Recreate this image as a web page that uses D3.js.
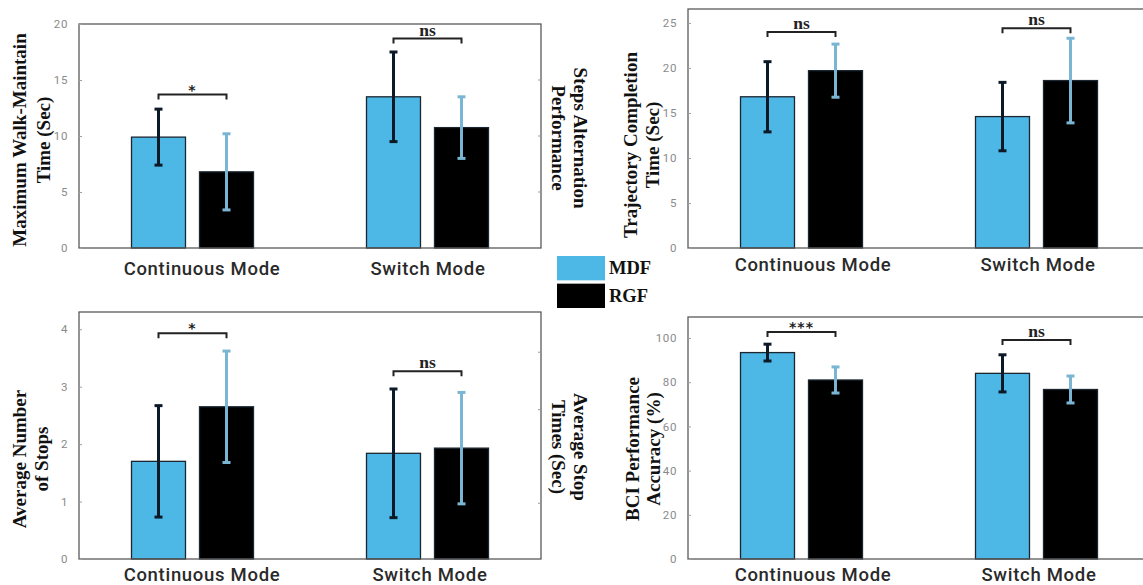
<!DOCTYPE html>
<html>
<head>
<meta charset="utf-8">
<script src="https://cdn.jsdelivr.net/npm/d3@7"></script>
<style>
  body { margin: 0; background: #fff; }
  svg { display: block; }
</style>
</head>
<body>
<svg id="chart" width="1143" height="585"></svg>
<script>
// ---- data ----
const categories = ["Continuous Mode", "Switch Mode"];
const seriesNames = ["MDF", "RGF"];

// Maximum walk-maintain time (s)
const walkMDF = [9.9, 13.5];
const walkMDFErr = [2.5, 4.0];
const walkRGF = [6.8, 10.75];
const walkRGFErr = [3.4, 2.75];
const walkSig = ["*", "ns"];
const walkBracket = [13.7, 18.7];
const walkTicks = [0, 5, 10, 15, 20];
const walkRightTicks = [5, 10, 15];

// Trajectory completion time (s)
const trajMDF = [16.8, 14.6];
const trajMDFErr = [3.9, 3.8];
const trajRGF = [19.7, 18.6];
const trajRGFErr = [2.95, 4.7];
const trajSig = ["ns", "ns"];
const trajBracket = [24.0, 24.4];
const trajTicks = [0, 5, 10, 15, 20, 25];

// Average number of stops
const stopsMDF = [1.7, 1.84];
const stopsMDFErr = [0.97, 1.12];
const stopsRGF = [2.65, 1.93];
const stopsRGFErr = [0.97, 0.97];
const stopsSig = ["*", "ns"];
const stopsBracket = [3.93, 3.27];
const stopsTicks = [0, 1, 2, 3, 4];
const stopsRightTicks = [0.97, 2.6, 3.6];

// BCI performance accuracy (%)
const bciMDF = [93.4, 84.0];
const bciMDFErr = [3.8, 8.4];
const bciRGF = [81.0, 76.7];
const bciRGFErr = [5.9, 6.1];
const bciSig = ["***", "ns"];
const bciBracket = [102.7, 99.1];
const bciTicks = [0, 20, 40, 60, 80, 100];

// ---- style ----
const colMDF = "#4db7e6";
const colRGF = "#000000";
const errMDF = "#0c1a28";
const errRGF = "#7ab6d3";
const serif = "'Liberation Serif', 'Times New Roman', serif";
const sans = "Roboto, 'DejaVu Sans', sans-serif";

const svg = d3.select("#chart");

function drawPanel(p) {
  const g = svg.append("g");
  const x = d3.scalePoint().domain(categories).range([p.left, p.left + p.width]).padding(0.483);
  const xs = d3.scaleBand().domain(seriesNames).range([-61, 61]).paddingInner(0.206);
  const y = d3.scaleLinear().domain([0, p.yMax]).range([p.bottom, p.top]);

  const rows = [];
  categories.forEach((c, i) => {
    rows.push({ cat: c, s: "MDF", v: p.mdf[i], e: p.mdfErr[i] });
    rows.push({ cat: c, s: "RGF", v: p.rgf[i], e: p.rgfErr[i] });
  });

  // bars
  g.selectAll("rect.bar").data(rows).join("rect")
    .attr("class", "bar")
    .attr("x", d => x(d.cat) + xs(d.s))
    .attr("width", xs.bandwidth())
    .attr("y", d => y(d.v))
    .attr("height", d => y(0) - y(d.v))
    .attr("fill", d => d.s === "MDF" ? colMDF : colRGF)
    .attr("stroke", "#1b2630")
    .attr("stroke-width", 1.3);

  // error bars
  const eb = g.selectAll("g.err").data(rows).join("g").attr("class", "err")
    .attr("stroke", d => d.s === "MDF" ? errMDF : errRGF)
    .attr("stroke-width", 3);
  const cx = d => x(d.cat) + xs(d.s) + xs.bandwidth() / 2;
  eb.append("line")
    .attr("x1", cx).attr("x2", cx)
    .attr("y1", d => y(d.v - d.e)).attr("y2", d => y(d.v + d.e));
  eb.append("line")
    .attr("x1", d => cx(d) - 4).attr("x2", d => cx(d) + 4)
    .attr("y1", d => y(d.v + d.e)).attr("y2", d => y(d.v + d.e));
  eb.append("line")
    .attr("x1", d => cx(d) - 4).attr("x2", d => cx(d) + 4)
    .attr("y1", d => y(d.v - d.e)).attr("y2", d => y(d.v - d.e));

  // axes box
  g.append("rect")
    .attr("x", p.left).attr("y", p.top)
    .attr("width", p.width).attr("height", p.bottom - p.top)
    .attr("fill", "none").attr("stroke", "#5a5a5a").attr("stroke-width", 1.3);

  // y axis ticks + labels
  const yAxis = d3.axisLeft(y).tickValues(p.ticks).tickFormat(d3.format("~g"))
    .tickSize(-3).tickPadding(11);
  const ya = g.append("g").attr("transform", `translate(${p.left},0)`).call(yAxis);
  ya.select(".domain").remove();
  ya.selectAll(".tick line").attr("stroke", "#a0a0a0");
  ya.selectAll(".tick text")
    .attr("fill", "#8a8a8a")
    .style("font-family", sans)
    .style("font-size", "11.5px")
    .style("letter-spacing", "0.6px");

  if (p.rightTicks) {
    g.append("g").selectAll("line").data(p.rightTicks).join("line")
      .attr("x1", p.left + p.width - 3).attr("x2", p.left + p.width)
      .attr("y1", d => y(d)).attr("y2", d => y(d))
      .attr("stroke", "#9a9a9a").attr("stroke-width", 1);
  }

  // category labels
  const xAxis = d3.axisBottom(x).tickSize(0).tickPadding(0);
  const xa = g.append("g").attr("transform", `translate(0,${p.bottom})`).call(xAxis);
  xa.select(".domain").remove();
  xa.selectAll(".tick text")
    .attr("dy", null)
    .attr("y", p.catY)
    .attr("dx", (d, i) => p.catDx[i])
    .attr("fill", "#2a2a2a")
    .style("font-family", sans)
    .style("font-weight", "500")
    .style("font-size", "18.5px")
    .style("letter-spacing", "0.7px");

  // significance brackets
  categories.forEach((c, i) => {
    const x1 = x(c) + xs("MDF") + xs.bandwidth() / 2;
    const x2 = x(c) + xs("RGF") + xs.bandwidth() / 2;
    const by = y(p.bracket[i]);
    g.append("path")
      .attr("d", `M${x1},${by + 5}V${by}H${x2}V${by + 5}`)
      .attr("fill", "none").attr("stroke", "#222").attr("stroke-width", 2);
    const isNs = p.sig[i] === "ns";
    g.append("text")
      .attr("x", (x1 + x2) / 2)
      .attr("y", isNs ? by - 3 : by)
      .attr("text-anchor", "middle")
      .attr("fill", "#222")
      .style("font-family", isNs ? serif : "'DejaVu Sans', sans-serif")
      .style("font-weight", "bold")
      .style("font-size", isNs ? "17.5px" : "14px")
      .style("letter-spacing", isNs ? "0px" : "1px")
      .text(p.sig[i]);
  });

  // axis titles
  const addTitle = (lines, xs2, cy, angle) => {
    lines.forEach((t, k) => {
      g.append("text")
        .attr("transform", `translate(${xs2[k]},${cy}) rotate(${angle})`)
        .attr("text-anchor", "middle")
        .attr("dominant-baseline", "central")
        .attr("fill", "#111")
        .style("font-family", serif)
        .style("font-weight", "bold")
        .style("font-size", "19px")
        .text(t);
    });
  };
  addTitle(p.yLabel, p.yLabelX, p.yLabelY, -90);
  if (p.rLabel) addTitle(p.rLabel, p.rLabelX, p.rLabelY, 90);
}

drawPanel({
  left: 79, width: 462, top: 24, bottom: 248, yMax: 20,
  mdf: walkMDF, mdfErr: walkMDFErr, rgf: walkRGF, rgfErr: walkRGFErr,
  sig: walkSig, bracket: walkBracket, ticks: walkTicks, rightTicks: walkRightTicks,
  catY: 27, catDx: [9, 0],
  yLabel: ["Maximum Walk-Maintain", "Time (Sec)"], yLabelX: [19, 43], yLabelY: 140,
  rLabel: ["Steps Alternation", "Performance"], rLabelX: [580, 558], rLabelY: 138
});

drawPanel({
  left: 688, width: 462, top: 9, bottom: 248, yMax: 26.55,
  mdf: trajMDF, mdfErr: trajMDFErr, rgf: trajRGF, rgfErr: trajRGFErr,
  sig: trajSig, bracket: trajBracket, ticks: trajTicks,
  catY: 23, catDx: [11, 1],
  yLabel: ["Trajectory Completion", "Time (Sec)"], yLabelX: [630, 652], yLabelY: 145
});

drawPanel({
  left: 79, width: 462, top: 312, bottom: 559, yMax: 4.3,
  mdf: stopsMDF, mdfErr: stopsMDFErr, rgf: stopsRGF, rgfErr: stopsRGFErr,
  sig: stopsSig, bracket: stopsBracket, ticks: stopsTicks, rightTicks: stopsRightTicks,
  catY: 22, catDx: [9, 2],
  yLabel: ["Average Number", "of Stops"], yLabelX: [19, 41], yLabelY: 459,
  rLabel: ["Average Stop", "Times (Sec)"], rLabelX: [580, 558], rLabelY: 447
});

drawPanel({
  left: 688, width: 462, top: 317, bottom: 559, yMax: 109.5,
  mdf: bciMDF, mdfErr: bciMDFErr, rgf: bciRGF, rgfErr: bciRGFErr,
  sig: bciSig, bracket: bciBracket, ticks: bciTicks,
  catY: 22, catDx: [11, 2],
  yLabel: ["BCI Performance", "Accuracy (%)"], yLabelX: [632, 653], yLabelY: 449
});

// legend
const legend = svg.append("g");
const legY = d3.scaleBand().domain(seriesNames).range([256, 308]).paddingInner(0.12);
legend.selectAll("rect").data(seriesNames).join("rect")
  .attr("x", 557).attr("y", d => legY(d))
  .attr("width", 48).attr("height", legY.bandwidth())
  .attr("fill", d => d === "MDF" ? colMDF : colRGF);
legend.selectAll("text").data(seriesNames).join("text")
  .attr("x", 609).attr("y", d => legY(d) + legY.bandwidth() / 2)
  .attr("dominant-baseline", "central")
  .attr("fill", "#111")
  .style("font-family", serif)
  .style("font-weight", "bold")
  .style("font-size", "18.5px")
  .text(d => d);
</script>
</body>
</html>
